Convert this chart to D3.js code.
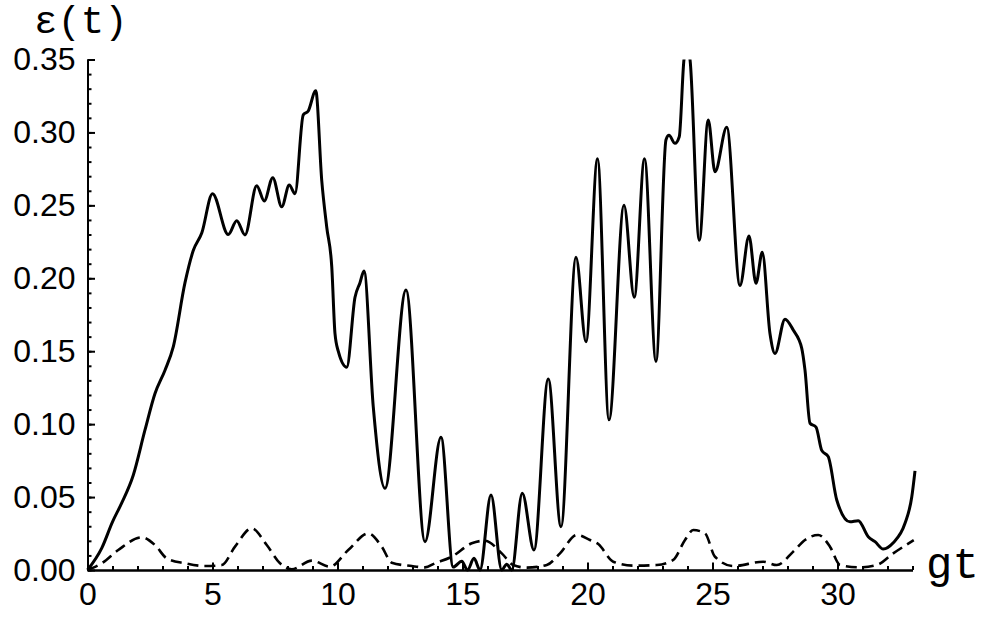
<!DOCTYPE html>
<html>
<head>
<meta charset="utf-8">
<script src="https://cdn.jsdelivr.net/npm/d3@7"></script>
<style>
  body { margin: 0; background: #fff; }
  .tick text { font-family: "Liberation Sans", Arial, sans-serif; font-size: 32px; fill: #000; }
  .axis-title { font-family: "Liberation Mono", "Courier New", monospace; fill: #000; }
</style>
</head>
<body>
<div id="chart"></div>
<script>
// solid curve, epsilon(t) samples
const solidT = [0, 0.57, 1.0, 1.37, 1.83, 2.3, 2.7, 3.1, 3.43, 3.9, 4.23, 4.57, 5.0, 5.63, 5.97, 6.3, 6.77, 7.07, 7.41, 7.77,
  8.07, 8.3, 8.63, 8.83, 9.13, 9.37, 9.57, 9.77, 9.9, 10.03, 10.37, 10.7, 10.9, 11.06, 11.43, 11.9, 12.74, 13.5, 14.14, 14.63,
  14.97, 15.2, 15.46, 15.7, 16.14, 16.57, 16.77, 16.97, 17.39, 17.86, 18.43, 18.94, 19.54, 19.94, 20.4, 20.86, 21.46, 21.87,
  22.28, 22.74, 23.14, 23.26, 23.5, 23.67, 23.86, 23.98, 24.1, 24.47, 24.83, 25.1, 25.57, 26.1, 26.46, 26.74, 26.99, 27.3,
  27.5, 27.9, 28.23, 28.57, 28.7, 28.9, 29.14, 29.37, 29.63, 29.97, 30.5, 30.83, 31.23, 31.5, 31.83, 32.23, 32.7, 32.97, 33.1];
const solidV = [0, 0.015, 0.033, 0.046, 0.065, 0.096, 0.121, 0.137, 0.153, 0.197, 0.219, 0.231, 0.258, 0.230, 0.2395, 0.2297, 0.2635, 0.253, 0.269, 0.249,
  0.264, 0.258, 0.312, 0.3147, 0.3286, 0.267, 0.235, 0.208, 0.162, 0.150, 0.139, 0.187, 0.197, 0.205, 0.112, 0.056, 0.192, 0.0194, 0.091, 0.002,
  0.006, 0.0, 0.008, 0.0, 0.0514, 0.0, 0.004, 0.0, 0.0526, 0.0137, 0.131, 0.0297, 0.2144, 0.1565, 0.282, 0.103, 0.250, 0.187,
  0.282, 0.143, 0.295, 0.298, 0.2925, 0.297, 0.35, 0.358, 0.35, 0.226, 0.3085, 0.273, 0.3035, 0.195, 0.229, 0.1966, 0.2178, 0.162,
  0.1485, 0.172, 0.1645, 0.152, 0.137, 0.1006, 0.098, 0.082, 0.0777, 0.048, 0.033, 0.0338, 0.0228, 0.0194, 0.0144, 0.0187, 0.032, 0.050, 0.068];

// dashed curve
const dashT = [0, 0.57, 1.23, 2.17, 2.7, 3.17, 3.9, 4.7, 5.37, 5.9, 6.57, 7.17, 7.7, 8.17, 8.97, 9.7, 10.43, 11.23, 11.77, 12.17,
  12.97, 13.5, 13.9, 14.57, 15.37, 15.9, 16.57, 17.03, 17.57, 18.37, 18.9, 19.57, 20.1, 20.43, 21.03, 21.83, 22.77, 23.43, 23.9, 24.23,
  24.7, 25.1, 25.83, 27.03, 27.57, 28.23, 28.7, 29.23, 29.7, 30.1, 30.9, 31.57, 32.23, 33.05];
const dashV = [0, 0.0046, 0.0137, 0.0224, 0.0171, 0.008, 0.0046, 0.0027, 0.0034, 0.016, 0.0286, 0.0171, 0.0046, 0.0005, 0.0064, 0.0023, 0.0137, 0.0251, 0.016, 0.005,
  0.0027, 0.0018, 0.0046, 0.0091, 0.0183, 0.0201, 0.0114, 0.0034, 0.0016, 0.0034, 0.0114, 0.024, 0.0206, 0.0178, 0.0057, 0.003, 0.0034, 0.0069, 0.0206, 0.0274,
  0.0251, 0.0091, 0.0027, 0.0057, 0.0034, 0.0126, 0.0206, 0.024, 0.016, 0.0034, 0.0018, 0.0034, 0.0114, 0.0205];

const xMajor = [0, 5, 10, 15, 20, 25, 30];
const xMinor = d3.range(0, 34);
const yMajor = [0, 0.05, 0.10, 0.15, 0.20, 0.25, 0.30, 0.35];
const yMinor = d3.range(0, 36).map(d => d / 100);

const W = 991, H = 626;

const svg = d3.select("#chart")
    .append("svg")
    .attr("width", W)
    .attr("height", H);

const x = d3.scaleLinear().domain([0, 33]).range([87.5, 912.5]);
const y = d3.scaleLinear().domain([0, 0.35]).range([570, 59.5]);

svg.append("defs").append("clipPath")
    .attr("id", "plotclip")
    .append("rect")
    .attr("x", 80).attr("y", y(0.35))
    .attr("width", 850).attr("height", 600);

const line = d3.line()
    .x(d => x(d[0]))
    .y(d => y(d[1]))
    .curve(d3.curveMonotoneX);

const g = svg.append("g").attr("clip-path", "url(#plotclip)");

g.append("path")
    .datum(dashT.map((t, i) => [t, dashV[i]]))
    .attr("d", line)
    .attr("fill", "none")
    .attr("stroke", "#000")
    .attr("stroke-width", 2.6)
    .attr("stroke-dasharray", "11,6");

g.append("path")
    .datum(solidT.map((t, i) => [t, solidV[i]]))
    .attr("d", line)
    .attr("fill", "none")
    .attr("stroke", "#000")
    .attr("stroke-width", 3)
    .attr("stroke-linejoin", "round");

// x axis: minor then major ticks (pointing inward)
svg.append("g")
    .attr("transform", `translate(0,${y(0)})`)
    .call(d3.axisBottom(x).tickValues(xMinor).tickSizeInner(-4).tickSizeOuter(0).tickFormat(""));
svg.append("g")
    .attr("transform", `translate(0,${y(0)})`)
    .call(d3.axisBottom(x).tickValues(xMajor).tickSizeInner(-7.5).tickSizeOuter(0).tickPadding(12).tickFormat(d3.format("d")));

// y axis
svg.append("g")
    .attr("transform", `translate(${x(0)},0)`)
    .call(d3.axisLeft(y).tickValues(yMinor).tickSizeInner(-4).tickSizeOuter(0).tickFormat(""));
svg.append("g")
    .attr("transform", `translate(${x(0)},0)`)
    .call(d3.axisLeft(y).tickValues(yMajor).tickSizeInner(-7.5).tickSizeOuter(0).tickPadding(12).tickFormat(d3.format(".2f")));

svg.selectAll(".domain").attr("stroke", "#000").attr("stroke-width", 2);
svg.selectAll(".tick line").attr("stroke", "#000").attr("stroke-width", 2);

svg.append("text")
    .attr("class", "axis-title")
    .attr("x", 34)
    .attr("y", 33)
    .style("font-size", "39px")
    .text("ε(t)");

svg.append("text")
    .attr("class", "axis-title")
    .attr("x", 926)
    .attr("y", 578)
    .style("font-size", "44px")
    .text("gt");
</script>
</body>
</html>
